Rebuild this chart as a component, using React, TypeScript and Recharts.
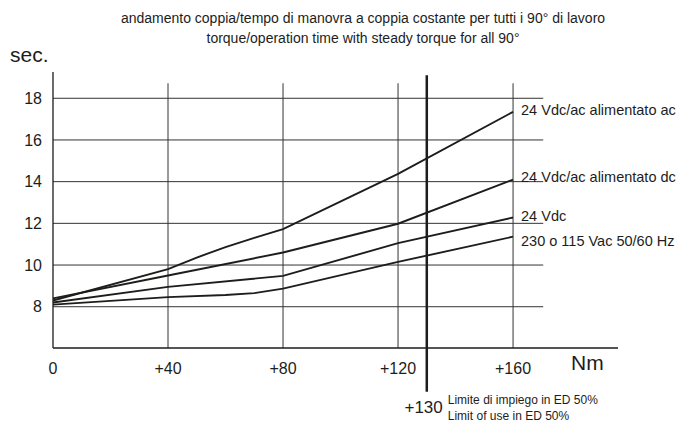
import { Line, LineChart, ReferenceLine, XAxis, YAxis } from 'recharts'

const acTorque = [0, 40, 50, 60, 70, 80, 120, 160]
const acTime = [8.3, 9.8, 10.36, 10.86, 11.3, 11.72, 14.37, 17.35]
const dcTorque = [0, 40, 80, 120, 160]
const dcTime = [8.4, 9.5, 10.6, 11.98, 14.1]
const vdcTorque = [0, 40, 80, 120, 160]
const vdcTime = [8.2, 8.95, 9.48, 11.05, 12.28]
const vacTorque = [0, 40, 60, 70, 80, 120, 160]
const vacTime = [8.1, 8.46, 8.56, 8.65, 8.87, 10.15, 11.36]

const seriesNames = ['24 Vdc/ac alimentato ac', '24 Vdc/ac alimentato dc', '24 Vdc', '230 o 115 Vac 50/60 Hz']
const xTicks = [0, 40, 80, 120, 160]
const xTickLabels = ['0', '+40', '+80', '+120', '+160']
const yTicks = [8, 10, 12, 14, 16, 18]
const limitTorque = 130
const limitLabels = ['+130', 'Limite di impiego in ED 50%', 'Limit of use in ED 50%']
const titleLines = [
  'andamento coppia/tempo di manovra a coppia costante per tutti i 90° di lavoro',
  'torque/operation time with steady torque for all 90°',
]

const toRows = (xs: number[], ys: number[]) => xs.map((t, i) => ({ t, s: ys[i] }))

const series = [
  { name: seriesNames[0], data: toRows(acTorque, acTime), dy: -2 },
  { name: seriesNames[1], data: toRows(dcTorque, dcTime), dy: -3 },
  { name: seriesNames[2], data: toRows(vdcTorque, vdcTime), dy: -2 },
  { name: seriesNames[3], data: toRows(vacTorque, vacTime), dy: 4 },
]

const font = '"Liberation Sans", Arial, sans-serif'
const ink = '#1d1d1b'

function endLabel(name: string, count: number, dy: number) {
  return (p: any) => {
    if (p.index !== count - 1) return null
    return (
      <text x={p.x + 8} y={p.y + dy} dy="0.35em" fontSize={14.5} fill={ink} fontFamily={font}>
        {name}
      </text>
    )
  }
}

function limitLabel(p: any) {
  const vb = p.viewBox || {}
  const x = vb.x ?? vb.x1
  const bottom = vb.height != null ? vb.y + vb.height : Math.max(vb.y1, vb.y2)
  return (
    <g fontFamily={font} fill={ink}>
      <text x={x + 16} y={bottom + 15} dy="0.35em" textAnchor="end" fontSize={17}>{limitLabels[0]}</text>
      <text x={x + 21} y={bottom + 8} dy="0.35em" fontSize={12}>{limitLabels[1]}</text>
      <text x={x + 21} y={bottom + 24} dy="0.35em" fontSize={12}>{limitLabels[2]}</text>
    </g>
  )
}

export default function App() {
  return (
    <div style={{ position: 'absolute', left: 0, top: 0, width: 698, height: 422, background: '#fff', fontFamily: font, color: ink }}>
      <div style={{ position: 'absolute', left: 0, width: 726, top: 8, textAlign: 'center', fontSize: 14, lineHeight: '20px' }}>
        {titleLines[0]}
        <br />
        {titleLines[1]}
      </div>
      <div style={{ position: 'absolute', left: 10, top: 43, fontSize: 21 }}>sec.</div>
      <div style={{ position: 'absolute', left: 571, top: 351, fontSize: 21 }}>Nm</div>
      <LineChart width={698} height={422} margin={{ top: 72, right: 80, bottom: 44, left: 8 }}>
        <XAxis
          type="number"
          dataKey="t"
          domain={[0, 196.5]}
          ticks={xTicks}
          tickFormatter={(v: number) => xTickLabels[xTicks.indexOf(v)]}
          tickLine={false}
          tickSize={6}
          tickMargin={9}
          height={30}
          stroke={ink}
          strokeWidth={1.5}
          tick={{ fill: ink, fontSize: 16, fontFamily: font }}
        />
        <YAxis
          type="number"
          domain={[6.02, 19.26]}
          allowDataOverflow
          ticks={yTicks}
          tickLine={false}
          tickSize={6}
          tickMargin={5}
          width={45}
          stroke={ink}
          strokeWidth={1.3}
          tick={{ fill: ink, fontSize: 16, fontFamily: font }}
        />
        {yTicks.map((v) => (
          <ReferenceLine key={'h' + v} segment={[{ x: 0, y: v }, { x: 170.5, y: v }]} stroke="#333" strokeWidth={1} />
        ))}
        {xTicks.slice(1).map((v) => (
          <ReferenceLine key={'v' + v} segment={[{ x: v, y: 6.02 }, { x: v, y: 18.72 }]} stroke="#333" strokeWidth={1} />
        ))}
        <ReferenceLine
          segment={[{ x: limitTorque, y: 3.92 }, { x: limitTorque, y: 19.1 }]}
          stroke={ink}
          strokeWidth={2.5}
          ifOverflow="visible"
          label={limitLabel}
        />
        {series.map((s) => (
          <Line
            key={s.name}
            data={s.data}
            dataKey="s"
            type="linear"
            stroke={ink}
            strokeWidth={1.9}
            dot={false}
            isAnimationActive={false}
            label={endLabel(s.name, s.data.length, s.dy)}
          />
        ))}
      </LineChart>
    </div>
  )
}
